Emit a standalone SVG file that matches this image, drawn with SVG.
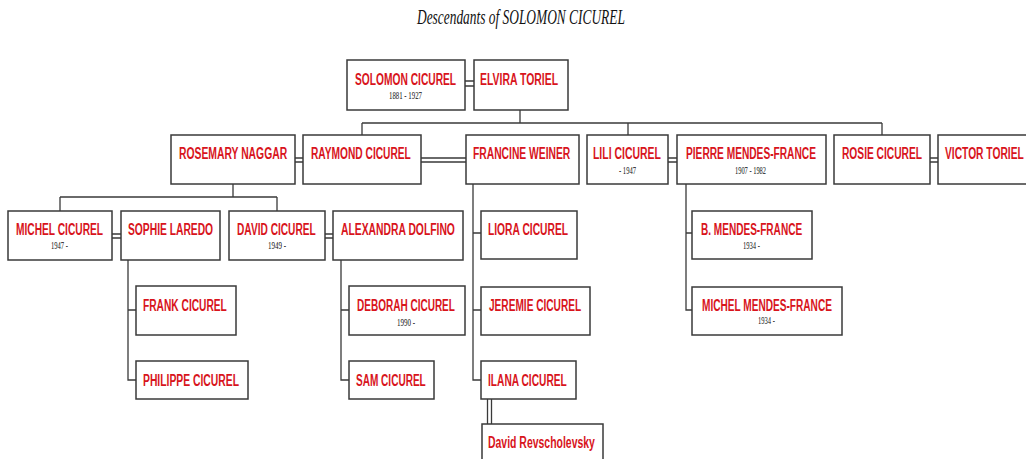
<svg xmlns="http://www.w3.org/2000/svg" width="1026" height="459" viewBox="0 0 1026 459">
<style>
.box{fill:#fff;stroke:#3a3a3a;stroke-width:1.5}
.nm{font-family:"Liberation Sans",Arial,sans-serif;font-size:16px;font-weight:bold;fill:#d8141c}
.dt{font-family:"Liberation Serif","Times New Roman",serif;font-size:10px;fill:#111}
.ln{fill:none;stroke:#3a3a3a;stroke-width:1.3}
.title{font-family:"Liberation Serif","Times New Roman",serif;font-style:italic;font-size:20px;fill:#111}
</style>
<rect width="1026" height="459" fill="#fff"/>
<text class="title" transform="translate(417 24) scale(0.7 1)" textLength="297" lengthAdjust="spacingAndGlyphs">Descendants of SOLOMON CICUREL</text>
<g id="connectors">
<path class="ln" d="M465,81H474M465,86H474"/>
<path class="ln" d="M520,110V123M362,123H882M362,123V135M628,123V135M882,123V135"/>
<path class="ln" d="M295,158H303M295,162H303"/>
<path class="ln" d="M421,158H466M421,162H466"/>
<path class="ln" d="M668,158H677M668,162H677"/>
<path class="ln" d="M930,158H938M930,162H938"/>
<path class="ln" d="M233,184V197M60,197H277M60,197V211M277,197V211"/>
<path class="ln" d="M112,234H121M112,238H121"/>
<path class="ln" d="M325,234H333M325,238H333"/>
<path class="ln" d="M128,260V380H136M128,310H136"/>
<path class="ln" d="M341,260V380H349M341,310H349"/>
<path class="ln" d="M473,184V380H481M473,233H481M473,310H481"/>
<path class="ln" d="M686,184V310H692M686,233H692"/>
<path class="ln" d="M487.5,399V424M491.5,399V424"/>
</g>
<g id="n-solomon"><rect class="box" x="347" y="60" width="118" height="50"/><text class="nm" transform="translate(355 85) scale(0.64 1)" textLength="158" lengthAdjust="spacingAndGlyphs">SOLOMON CICUREL</text><text class="dt" transform="translate(389 99) scale(0.68 1)" textLength="48.5" lengthAdjust="spacingAndGlyphs">1881 - 1927</text></g>
<g id="n-elvira"><rect class="box" x="474" y="60" width="94" height="50"/><text class="nm" transform="translate(480 85) scale(0.64 1)" textLength="122" lengthAdjust="spacingAndGlyphs">ELVIRA TORIEL</text></g>
<g id="n-rosemary"><rect class="box" x="171" y="135" width="124" height="49"/><text class="nm" transform="translate(179 159) scale(0.64 1)" textLength="169" lengthAdjust="spacingAndGlyphs">ROSEMARY NAGGAR</text></g>
<g id="n-raymond"><rect class="box" x="303" y="135" width="118" height="49"/><text class="nm" transform="translate(311 159) scale(0.64 1)" textLength="156" lengthAdjust="spacingAndGlyphs">RAYMOND CICUREL</text></g>
<g id="n-francine"><rect class="box" x="466" y="135" width="113" height="49"/><text class="nm" transform="translate(473 159) scale(0.64 1)" textLength="152" lengthAdjust="spacingAndGlyphs">FRANCINE WEINER</text></g>
<g id="n-lili"><rect class="box" x="587" y="135" width="81" height="49"/><text class="nm" transform="translate(593 159) scale(0.64 1)" textLength="106" lengthAdjust="spacingAndGlyphs">LILI CICUREL</text><text class="dt" transform="translate(619 174) scale(0.68 1)" textLength="25" lengthAdjust="spacingAndGlyphs">- 1947</text></g>
<g id="n-pierre"><rect class="box" x="677" y="135" width="149" height="49"/><text class="nm" transform="translate(686 159) scale(0.64 1)" textLength="203" lengthAdjust="spacingAndGlyphs">PIERRE MENDES-FRANCE</text><text class="dt" transform="translate(735 174) scale(0.68 1)" textLength="45.6" lengthAdjust="spacingAndGlyphs">1907 - 1982</text></g>
<g id="n-rosie"><rect class="box" x="834" y="135" width="96" height="49"/><text class="nm" transform="translate(842 159) scale(0.64 1)" textLength="125" lengthAdjust="spacingAndGlyphs">ROSIE CICUREL</text></g>
<g id="n-victor"><rect class="box" x="938" y="135" width="96" height="49"/><text class="nm" transform="translate(945 159) scale(0.64 1)" textLength="123" lengthAdjust="spacingAndGlyphs">VICTOR TORIEL</text></g>
<g id="n-michel"><rect class="box" x="8" y="211" width="104" height="49"/><text class="nm" transform="translate(16 235) scale(0.64 1)" textLength="136" lengthAdjust="spacingAndGlyphs">MICHEL CICUREL</text><text class="dt" transform="translate(51 249) scale(0.68 1)" textLength="25" lengthAdjust="spacingAndGlyphs">1947 -</text></g>
<g id="n-sophie"><rect class="box" x="121" y="211" width="99" height="49"/><text class="nm" transform="translate(128 235) scale(0.64 1)" textLength="133" lengthAdjust="spacingAndGlyphs">SOPHIE LAREDO</text></g>
<g id="n-david"><rect class="box" x="229" y="211" width="96" height="49"/><text class="nm" transform="translate(237 235) scale(0.64 1)" textLength="123" lengthAdjust="spacingAndGlyphs">DAVID CICUREL</text><text class="dt" transform="translate(268 249) scale(0.68 1)" textLength="26.5" lengthAdjust="spacingAndGlyphs">1949 -</text></g>
<g id="n-alexandra"><rect class="box" x="333" y="211" width="130" height="49"/><text class="nm" transform="translate(341 235) scale(0.64 1)" textLength="178" lengthAdjust="spacingAndGlyphs">ALEXANDRA DOLFINO</text></g>
<g id="n-liora"><rect class="box" x="481" y="211" width="96" height="48"/><text class="nm" transform="translate(488 235) scale(0.64 1)" textLength="125" lengthAdjust="spacingAndGlyphs">LIORA CICUREL</text></g>
<g id="n-bmf"><rect class="box" x="692" y="211" width="120" height="48"/><text class="nm" transform="translate(701 235) scale(0.64 1)" textLength="158" lengthAdjust="spacingAndGlyphs">B. MENDES-FRANCE</text><text class="dt" transform="translate(743 249) scale(0.68 1)" textLength="25" lengthAdjust="spacingAndGlyphs">1934 -</text></g>
<g id="n-frank"><rect class="box" x="136" y="286" width="100" height="49"/><text class="nm" transform="translate(143 311) scale(0.64 1)" textLength="131" lengthAdjust="spacingAndGlyphs">FRANK CICUREL</text></g>
<g id="n-deborah"><rect class="box" x="349" y="286" width="116" height="49"/><text class="nm" transform="translate(357 311) scale(0.64 1)" textLength="153" lengthAdjust="spacingAndGlyphs">DEBORAH CICUREL</text><text class="dt" transform="translate(397 326) scale(0.68 1)" textLength="26.5" lengthAdjust="spacingAndGlyphs">1990 -</text></g>
<g id="n-jeremie"><rect class="box" x="481" y="287" width="109" height="48"/><text class="nm" transform="translate(489 311) scale(0.64 1)" textLength="144" lengthAdjust="spacingAndGlyphs">JEREMIE CICUREL</text></g>
<g id="n-mmf"><rect class="box" x="692" y="287" width="150" height="48"/><text class="nm" transform="translate(702 311) scale(0.64 1)" textLength="203" lengthAdjust="spacingAndGlyphs">MICHEL MENDES-FRANCE</text><text class="dt" transform="translate(758 324) scale(0.68 1)" textLength="25" lengthAdjust="spacingAndGlyphs">1934 -</text></g>
<g id="n-philippe"><rect class="box" x="136" y="361" width="112" height="38"/><text class="nm" transform="translate(143 386) scale(0.64 1)" textLength="150" lengthAdjust="spacingAndGlyphs">PHILIPPE CICUREL</text></g>
<g id="n-sam"><rect class="box" x="349" y="361" width="85" height="38"/><text class="nm" transform="translate(356 386) scale(0.64 1)" textLength="109" lengthAdjust="spacingAndGlyphs">SAM CICUREL</text></g>
<g id="n-ilana"><rect class="box" x="481" y="361" width="95" height="38"/><text class="nm" transform="translate(488 386) scale(0.64 1)" textLength="123" lengthAdjust="spacingAndGlyphs">ILANA CICUREL</text></g>
<g id="n-revscholevsky"><rect class="box" x="482" y="424" width="121" height="45"/><text class="nm" transform="translate(488 448) scale(0.64 1)" textLength="167" lengthAdjust="spacingAndGlyphs">David Revscholevsky</text></g>
</svg>
